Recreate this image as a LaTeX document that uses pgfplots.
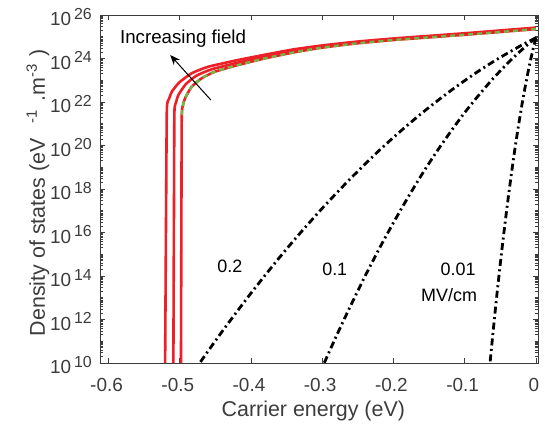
\documentclass[border=0pt]{standalone}
\usepackage{fontspec}
\setmainfont{Liberation Sans}
\usepackage{pgfplots}
\usepackage{pgfplotstable}
\pgfplotsset{compat=1.18}
\usetikzlibrary{arrows.meta}

\definecolor{axc}{RGB}{60,60,60}
\definecolor{txc}{RGB}{60,60,60}
\definecolor{myred}{RGB}{236,32,38}
\definecolor{mygreen}{RGB}{108,186,68}

\def\myminor{1e11}
\foreach \e in {10,...,25}{\foreach \k in {2,...,9}{\xdef\myminor{\myminor,\k e\e}}}
\foreach \e in {13,15,...,25}{\xdef\myminor{\myminor,1e\e}}

\newcommand\ytl[1]{10\hspace{3bp}\raisebox{6.5bp}{\fontsize{16}{16}\selectfont #1}}
\newcommand\mysup[1]{\raisebox{8bp}{\fontsize{15}{15}\selectfont #1}}

% field curves: E (eV), lg = log10(DOS)
\pgfplotstableread{
E lg
-0.5206 9.8
-0.5190 18.0
-0.5181 21.71
-0.5150 22.15
-0.5112 22.47
-0.5055 22.72
-0.4996 22.93
-0.4833 23.32
-0.4601 23.62
-0.4183 23.93
-0.3810 24.17
-0.3400 24.42
-0.3000 24.60
-0.2500 24.78
-0.2000 24.92
-0.1500 25.04
-0.1000 25.16
-0.0500 25.29
0.0000 25.42
}\tabRedA
\pgfplotstableread{
E lg
-0.5090 9.8
-0.5080 18.0
-0.5075 21.55
-0.5050 22.00
-0.5020 22.32
-0.4915 22.82
-0.4765 23.21
-0.4555 23.50
-0.4183 23.81
-0.3810 24.09
-0.3400 24.35
-0.3000 24.55
-0.2500 24.74
-0.2000 24.885
-0.1500 25.005
-0.1000 25.125
-0.0500 25.255
0.0000 25.385
}\tabRedB
\pgfplotstableread{
E lg
-0.4983 9.8
-0.4976 18.0
-0.4972 21.40
-0.4955 21.85
-0.4926 22.17
-0.4833 22.70
-0.4693 23.09
-0.4508 23.39
-0.4183 23.70
-0.3810 24.00
-0.3400 24.28
-0.3000 24.50
-0.2500 24.70
-0.2000 24.85
-0.1500 24.97
-0.1000 25.09
-0.0500 25.22
0.0000 25.35
}\tabRedC
\pgfplotstableread{
E lg
-0.4972 21.40
-0.4955 21.85
-0.4926 22.17
-0.4833 22.70
-0.4693 23.09
-0.4508 23.39
-0.4183 23.70
-0.3810 24.00
-0.3400 24.28
-0.3000 24.50
-0.2500 24.70
-0.2000 24.85
-0.1500 24.97
-0.1000 25.09
-0.0500 25.22
0.0000 25.35
}\tabGreen
\pgfplotstableread{
E lg
0.000 24.95
-0.020 24.61
-0.040 24.24
-0.060 23.85
-0.080 23.43
-0.100 22.98
-0.120 22.51
-0.140 22.01
-0.160 21.49
-0.180 20.94
-0.200 20.37
-0.220 19.77
-0.240 19.14
-0.260 18.49
-0.280 17.81
-0.300 17.11
-0.320 16.38
-0.340 15.63
-0.360 14.85
-0.380 14.04
-0.400 13.21
-0.420 12.35
-0.440 11.47
-0.460 10.56
-0.475 9.86
}\tabFa
\pgfplotstableread{
E lg
0.000 24.95
-0.010 24.68
-0.020 24.39
-0.030 24.09
-0.040 23.77
-0.060 23.08
-0.080 22.32
-0.100 21.51
-0.120 20.62
-0.140 19.68
-0.160 18.67
-0.180 17.59
-0.200 16.45
-0.220 15.25
-0.240 13.98
-0.260 12.64
-0.280 11.25
-0.300 9.79
}\tabFb
\pgfplotstableread{
E lg
0.000 24.95
-0.002 24.69
-0.005 24.28
-0.010 23.54
-0.015 22.70
-0.020 21.79
-0.025 20.79
-0.030 19.71
-0.035 18.54
-0.040 17.29
-0.045 15.96
-0.050 14.55
-0.055 13.05
-0.060 11.46
-0.066 9.45
}\tabFc

\begin{document}
\begin{tikzpicture}
\useasboundingbox (-100bp,-63bp) rectangle (445bp,363bp);
\begin{axis}[
  at={(0,0)}, anchor=south west,
  scale only axis, width=438bp, height=348bp,
  xmin=-0.612, xmax=0.003,
  ymode=log, ymin=1e10, ymax=1e26,
  axis line style={axc, line width=0.6bp},
  every tick/.style={axc, line width=0.6bp},
  major tick length=5bp, minor tick length=3bp,
  tick align=inside, xtick pos=both, ytick pos=both,
  xticklabel pos=lower, yticklabel pos=left,
  xtick={-0.6,-0.5,-0.4,-0.3,-0.2,-0.1,0},
  xticklabels={-0.6,-0.5,-0.4,-0.3,-0.2,-0.1,0},
  ytick={1e10,1e12,1e14,1e16,1e18,1e20,1e22,1e24,1e26},
  yticklabels={\ytl{10},\ytl{12},\ytl{14},\ytl{16},\ytl{18},\ytl{20},\ytl{22},\ytl{24},\ytl{26}},
  minor ytick/.expanded={\myminor},
  xticklabel style={font=\fontsize{19}{19}\selectfont, text=txc, anchor=base, inner sep=0pt, yshift=-29bp, xshift=-2bp},
  yticklabel style={font=\fontsize{19}{19}\selectfont, text=txc, anchor=east, inner sep=0pt, xshift=-8bp, yshift=-2bp},
  xlabel={Carrier energy (eV)},
  ylabel={Density of states (eV\hspace{15bp}\mysup{-1}\hspace{9bp}.m\mysup{-3}\hspace{8bp})},
  xlabel style={font=\fontsize{21.5}{21.5}\selectfont, text=txc, at={(axis description cs:0.487,0)}, anchor=base, yshift=-54bp},
  ylabel style={font=\fontsize{21.5}{21.5}\selectfont, text=txc, at={(axis description cs:0,0.49)}, anchor=base, yshift=55bp},
]
\addplot[myred, line width=2.6bp, smooth, tension=0.35] table[x=E, y expr=10^\thisrow{lg}] {\tabRedA};
\addplot[myred, line width=2.6bp, smooth, tension=0.35] table[x=E, y expr=10^\thisrow{lg}] {\tabRedB};
\addplot[myred, line width=2.6bp, smooth, tension=0.35] table[x=E, y expr=10^\thisrow{lg}] {\tabRedC};
\addplot[mygreen, line width=2.4bp, dash pattern=on 5bp off 4bp, smooth, tension=0.35] table[x=E, y expr=10^\thisrow{lg}] {\tabGreen};
\addplot[black, line width=2.8bp, dash pattern=on 7bp off 3.5bp on 2bp off 3.5bp, smooth] table[x=E, y expr=10^\thisrow{lg}] {\tabFa};
\addplot[black, line width=2.8bp, dash pattern=on 7bp off 3.5bp on 2bp off 3.5bp, smooth] table[x=E, y expr=10^\thisrow{lg}] {\tabFb};
\addplot[black, line width=2.8bp, dash pattern=on 7bp off 3.5bp on 2bp off 3.5bp, smooth] table[x=E, y expr=10^\thisrow{lg}] {\tabFc};
\draw[black, line width=1bp, -{Stealth[length=10bp, width=8bp]}] (axis cs:-0.4563,1.23e22) -- (axis cs:-0.5135,1.45e24);
\node[font=\fontsize{18.8}{18.8}\selectfont, text=black] at (axis cs:-0.4954,8.3e24) {Increasing field};
\node[font=\fontsize{18}{18}\selectfont, text=black] at (axis cs:-0.4298,2.7e14) {0.2};
\node[font=\fontsize{18}{18}\selectfont, text=black] at (axis cs:-0.2824,2.1e14) {0.1};
\node[font=\fontsize{18}{18}\selectfont, text=black] at (axis cs:-0.1091,2.1e14) {0.01};
\node[font=\fontsize{18}{18}\selectfont, text=black] at (axis cs:-0.1219,1.26e13) {MV/cm};
\end{axis}
\end{tikzpicture}
\end{document}
